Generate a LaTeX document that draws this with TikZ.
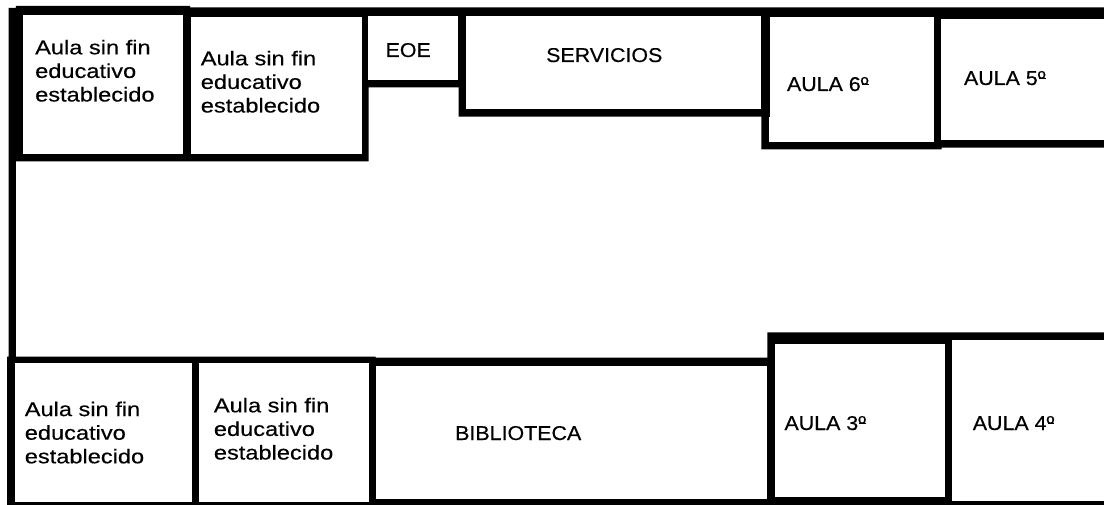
\documentclass[tikz,border=0pt]{standalone}
\usepackage{fontspec}
\setmainfont{Liberation Sans}
\newfontfamily\lowfont[FakeStretch=1.18,FakeBold=0.35]{Liberation Sans}
\newfontfamily\capfont[FakeStretch=1.07,FakeBold=0.35]{Liberation Sans}
\newcommand{\ordm}{º\llap{\rule[0.29em]{0.33em}{0.08em}}}
\tikzset{
  x=1pt,y=-1pt,
  room/.style={fill=white,draw=none},
  aulatext/.style={anchor=base west,inner sep=0pt,align=left,font=\lowfont\fontsize{20}{23.6}\selectfont},
  captext/.style={anchor=base west,inner sep=0pt,font=\capfont\fontsize{20}{24}\selectfont}
}
\begin{document}
\begin{tikzpicture}
\useasboundingbox (0,0) rectangle (1104,505);
% walls
\fill[black] (8.5,8) -- (15.8,8) -- (15.8,6) -- (190,6) -- (190,7.5) -- (1104,7.5)
  -- (1104,147.7) -- (941.7,147.7) -- (941.7,149.3) -- (761.4,149.3) -- (761.4,116.7)
  -- (458.7,116.7) -- (458.7,87.3) -- (368.6,87.3) -- (368.6,161.3) -- (15.8,161.3)
  -- (15.8,356.7) -- (375.6,356.7) -- (375.6,357.7) -- (767.4,357.7) -- (767.4,332.3)
  -- (1104,332.3) -- (1104,505) -- (7,505) -- (7,356.7) -- (8.5,356.7) -- cycle;
% rooms
\fill[room] (22.9,14.7) rectangle (182.7,153.7);
\fill[room] (191.2,17.5) rectangle (361.5,153.7);
\fill[room] (368.2,16) rectangle (457.6,80);
\fill[room] (465.7,16) rectangle (761.4,109.5);
\fill[room] (770.2,17.5) rectangle (934.3,142);
\fill[room] (768.5,117) rectangle (934.3,142);
\fill[room] (941,19) rectangle (1104,140.5);
\fill[room] (15.1,363.3) rectangle (191.8,501.7);
\fill[room] (198.5,363.3) rectangle (368.5,501.7);
\fill[room] (375.6,365.7) rectangle (767.4,499.3);
\fill[room] (774.5,344.3) rectangle (944.5,497);
\fill[room] (951.5,340) rectangle (1104,501.3);
% labels
\node[aulatext] (t1) at (35,101.5) {Aula sin fin\\educativo\\establecido};
\node[aulatext] (t2) at (200.6,112.5) {Aula sin fin\\educativo\\establecido};
\node[aulatext] (t3) at (24.6,463.3) {Aula sin fin\\educativo\\establecido};
\node[aulatext] (t4) at (213.7,459.5) {Aula sin fin\\educativo\\establecido};
\node[captext] (eoe) at (385.4,57) {EOE};
\node[captext] (serv) at (546,62) {SERVICIOS};
\node[captext] (a6) at (786.8,91) {AULA 6\ordm};
\node[captext] (a5) at (963.8,85) {AULA 5\ordm};
\node[captext] (bib) at (455,440) {BIBLIOTECA};
\node[captext] (a3) at (784.3,430) {AULA 3\ordm};
\node[captext] (a4) at (972.6,430) {AULA 4\ordm};
\end{tikzpicture}
\end{document}
